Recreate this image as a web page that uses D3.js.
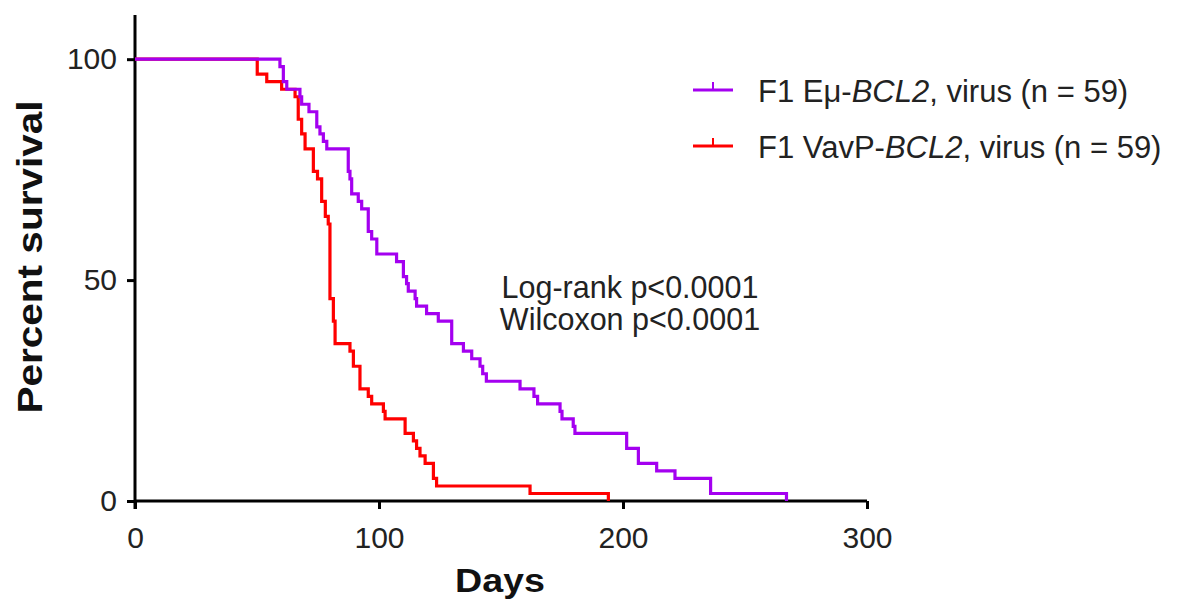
<!DOCTYPE html>
<html>
<head>
<meta charset="utf-8">
<script src="https://cdn.jsdelivr.net/npm/d3@7"></script>
<style>
  body { margin: 0; background: #fff; }
  svg { display: block; font-family: "Liberation Sans", Arial, sans-serif; }
  .axis path, .axis line { stroke: #000; stroke-width: 3; }
  .axis text { font-size: 30px; fill: #222; }
</style>
</head>
<body>
<div id="chart"></div>
<script>
// Kaplan-Meier steps (day, % survival)
const emuDays = [0, 59.4, 60.8, 62.2, 67.6, 68.3, 71.3, 74.5, 75.8, 77.2, 78.6, 87.4, 88.1, 88.8, 91.5, 92.9, 95.6, 97.0, 99.1, 107.2, 110.0, 111.3, 112.0, 114.8, 115.4, 119.5, 124.3, 129.8, 134.6, 138.0, 141.4, 142.5, 144.0, 157.8, 163.5, 165.0, 174.2, 175.0, 179.6, 180.3, 201.5, 206.3, 213.8, 221.3, 235.9, 267];
const emuSurvival = [100, 98.3, 94.9, 93.2, 91.5, 89.8, 88.1, 84.7, 83.1, 81.4, 79.7, 74.6, 72.9, 69.5, 67.8, 66.1, 61.0, 59.3, 55.9, 54.2, 50.8, 49.2, 47.5, 45.8, 44.1, 42.4, 40.7, 35.6, 33.9, 32.2, 30.5, 28.8, 27.1, 25.4, 23.7, 22.0, 20.3, 18.6, 16.9, 15.3, 11.9, 8.5, 6.8, 5.1, 1.7, 0];

const vavDays = [0, 50.1, 54.0, 60.1, 65.6, 66.9, 68.3, 69.7, 73.1, 74.8, 76.5, 78.0, 79.2, 79.9, 81.3, 82.0, 88.1, 89.5, 92.2, 95.6, 97.0, 101.8, 102.5, 110.7, 114.1, 115.4, 116.8, 118.9, 122.3, 123.6, 161.9, 194];
const vavSurvival = [100, 96.6, 94.9, 93.2, 91.5, 86.4, 83.1, 79.7, 74.6, 72.9, 67.8, 64.4, 62.7, 45.8, 40.7, 35.6, 33.9, 30.5, 25.4, 23.7, 22.0, 20.3, 18.6, 15.3, 13.6, 11.9, 10.2, 8.5, 5.1, 3.4, 1.7, 0];

const xTicks = [0, 100, 200, 300];
const yTicks = [0, 50, 100];
const seriesNames = ['F1 Eμ-', 'F1 VavP-'];
const seriesColors = ['#a400f0', '#ff0000'];
const statsLines = ['Log-rank p<0.0001', 'Wilcoxon p<0.0001'];

const W = 1184, H = 606;
const svg = d3.select('#chart').append('svg')
  .attr('width', W)
  .attr('height', H);

// Escalas
const x = d3.scaleLinear().domain([0, 300]).range([135, 867]);
const y = d3.scaleLinear().domain([0, 110]).range([501, 15]);

// Curvas
const series = [
  emuDays.map((d, i) => ({ day: d, pct: emuSurvival[i] })),
  vavDays.map((d, i) => ({ day: d, pct: vavSurvival[i] }))
];

const line = d3.line()
  .x(d => x(d.day))
  .y(d => y(d.pct))
  .curve(d3.curveStepAfter);

// Eixos
svg.append('g')
  .attr('class', 'axis')
  .attr('transform', `translate(0,${y(0)})`)
  .call(d3.axisBottom(x).tickValues(xTicks).tickSize(8).tickSizeOuter(0).tickPadding(18))
  .call(g => g.selectAll('.domain').attr('d', `M${x(0)},0H${x(300)}`));

svg.append('g')
  .attr('class', 'axis')
  .attr('transform', `translate(${x(0)},0)`)
  .call(d3.axisLeft(y).tickValues(yTicks).tickSize(8).tickSizeOuter(0).tickPadding(10))
  .call(g => g.selectAll('.domain').attr('d', `M0,${y(110)}V${y(0) + 8}`));

svg.selectAll('.axis text').attr('font-family', '"Liberation Sans", Arial, sans-serif');

// draw red first, purple on top where they overlap at start
[1, 0].forEach(i => {
  svg.append('path')
    .datum(series[i])
    .attr('fill', 'none')
    .attr('stroke', seriesColors[i])
    .attr('stroke-width', 3.2)
    .attr('stroke-linejoin', 'miter')
    .attr('d', line);
});

// Rótulos dos eixos
svg.append('text')
  .attr('x', 500)
  .attr('y', 592)
  .attr('text-anchor', 'middle')
  .attr('font-size', 33)
  .attr('font-weight', 'bold')
  .attr('fill', '#111')
  .attr('textLength', 90)
  .attr('lengthAdjust', 'spacingAndGlyphs')
  .text('Days');

svg.append('text')
  .attr('transform', 'translate(42,257) rotate(-90)')
  .attr('text-anchor', 'middle')
  .attr('font-size', 35)
  .attr('font-weight', 'bold')
  .attr('fill', '#111')
  .attr('textLength', 313)
  .attr('lengthAdjust', 'spacingAndGlyphs')
  .text('Percent survival');

// Legenda
const legend = svg.append('g').attr('transform', 'translate(693,90)');
seriesNames.forEach((name, i) => {
  const g = legend.append('g').attr('transform', `translate(0,${i * 56})`);
  g.append('line')
    .attr('x1', 0).attr('x2', 40).attr('y1', 0).attr('y2', 0)
    .attr('stroke', seriesColors[i]).attr('stroke-width', 3);
  g.append('line')
    .attr('x1', 20).attr('x2', 20).attr('y1', 0).attr('y2', -8)
    .attr('stroke', seriesColors[i]).attr('stroke-width', 2);
  const t = g.append('text')
    .attr('x', 65)
    .attr('y', 12)
    .attr('font-size', 31)
    .attr('fill', '#222');
  t.append('tspan').text(name);
  t.append('tspan').attr('font-style', 'italic').text('BCL2');
  t.append('tspan').text(', virus (n = 59)');
});

// Estatística
svg.append('g')
  .selectAll('text')
  .data(statsLines)
  .enter()
  .append('text')
  .attr('x', 630)
  .attr('y', (d, i) => 298 + i * 32)
  .attr('text-anchor', 'middle')
  .attr('font-size', 30.5)
  .attr('fill', '#222')
  .text(d => d);
</script>
</body>
</html>
